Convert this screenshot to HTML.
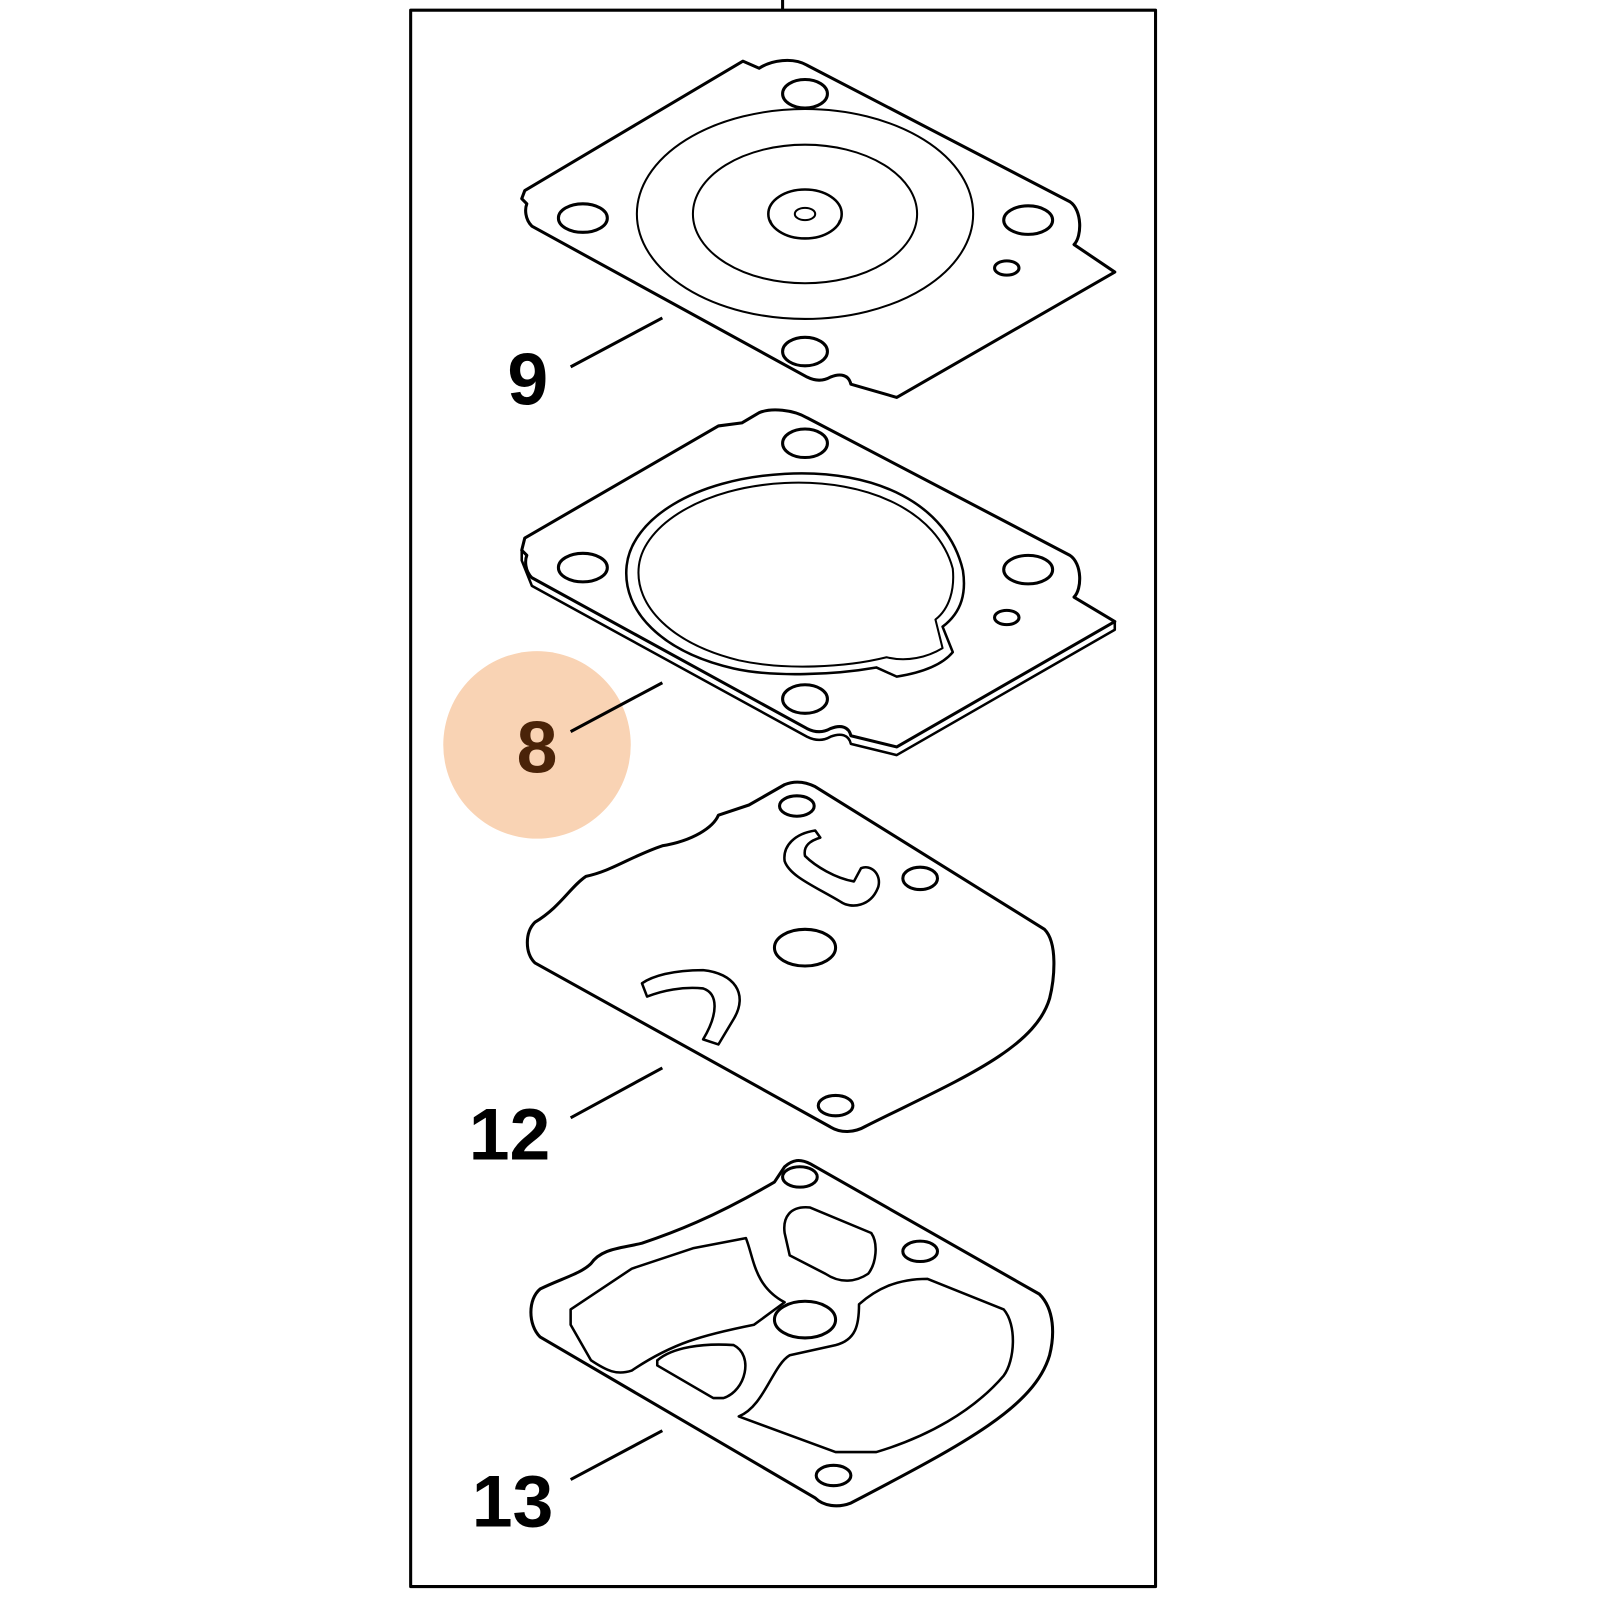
<!DOCTYPE html>
<html><head><style>
html,body{margin:0;padding:0;background:#fff;width:1600px;height:1600px;overflow:hidden}
svg{display:block}
text{font-family:"Liberation Sans",sans-serif;font-weight:bold}
</style></head><body>
<svg width="1600" height="1600" viewBox="0 0 1600 1600" fill="none" stroke="#000" stroke-width="3" stroke-linejoin="round">
<g transform="scale(1.019)">
<line x1="768" y1="0" x2="768" y2="10"/>
<rect x="403" y="10" width="731" height="1547"/>

<!-- Gasket 9 -->
<path d="M515,187 L729,60 L745,67 C757,59 778,56 792,64 L1050,198 C1062,206 1062,232 1054,240 L1094,267 L880,390 L835,377 C833,368 825,366 815,370 C808,374 800,374 792,370 L522,222 C515,215 515,205 517,200 L512,195 L515,187 Z"/>
<ellipse cx="790" cy="92" rx="22" ry="14"/>
<ellipse cx="572" cy="214" rx="24" ry="14"/>
<ellipse cx="1009" cy="216" rx="24" ry="14"/>
<ellipse cx="988" cy="263" rx="12" ry="7"/>
<ellipse cx="790" cy="345" rx="22" ry="14"/>
<ellipse cx="790" cy="210" rx="165" ry="103" stroke-width="2"/>
<ellipse cx="790" cy="210" rx="110" ry="68" stroke-width="2"/>
<ellipse cx="790" cy="210" rx="36" ry="24" stroke-width="2.5"/>
<path d="M756,216 C760,228 775,234 790,234 C805,234 820,228 824,216" stroke-width="1.5"/>
<ellipse cx="790" cy="210" rx="10" ry="6" stroke-width="2"/>
<line x1="560" y1="360" x2="650" y2="312"/>
<text x="518" y="397" font-size="72" fill="#000" stroke="none" text-anchor="middle">9</text>

<!-- Gasket 8 -->
<circle cx="527" cy="731" r="92" fill="#f9d3b4" stroke="none"/>
<path d="M515,528 L705,418 L728,415 L745,405 C757,400 778,402 792,410 L1050,545 C1062,553 1062,578 1054,586 L1094,610 L880,733 L835,722 C833,713 825,711 815,715 C808,719 800,719 792,715 L522,567 C515,560 515,550 517,545 L512,540 L515,528 Z"/>
<path d="M512,540 L512,550 L522,575 L792,723 C800,727 808,727 815,723 C825,719 833,721 835,730 L880,741 L1094,618 L1094,610" stroke-width="2.5"/>
<ellipse cx="790" cy="435" rx="22" ry="14"/>
<ellipse cx="572" cy="557" rx="24" ry="14"/>
<ellipse cx="1009" cy="559" rx="24" ry="14"/>
<ellipse cx="988" cy="606" rx="12" ry="7"/>
<ellipse cx="790" cy="686" rx="22" ry="14"/>
<path d="M860,655 C820,662 760,665 720,656 C650,640 610,600 615,555 C620,510 680,470 770,465 C860,460 930,495 945,560 C948,580 945,600 925,615 L935,640 C925,652 905,660 880,664 Z" stroke-width="2.5"/>
<path d="M870,645 C830,655 770,658 725,648 C660,632 622,595 627,555 C632,515 690,478 770,474 C852,470 920,502 935,558 C937,578 932,597 918,608 L925,636 C910,645 890,650 870,645 Z" stroke-width="2"/>
<line x1="560" y1="718" x2="650" y2="670"/>
<text x="527" y="758" font-size="72" fill="#4a2308" stroke="none" text-anchor="middle">8</text>

<!-- Gasket 12 -->
<path d="M525,905 C550,890 560,870 575,860 C600,855 620,840 650,830 C680,825 700,812 705,800 L735,790 L770,770 C780,766 790,767 800,772 L1025,912 C1038,925 1035,960 1030,980 C1015,1030 940,1060 850,1105 C838,1112 825,1112 815,1106 L525,945 C515,935 515,915 525,905 Z"/>
<ellipse cx="782" cy="791" rx="17" ry="10"/>
<ellipse cx="903" cy="862" rx="17" ry="11"/>
<ellipse cx="790" cy="930" rx="30" ry="18"/>
<ellipse cx="820" cy="1085" rx="17" ry="10"/>
<path d="M800,815 C780,818 768,830 770,845 C775,860 800,870 825,885 C835,892 855,890 862,870 C865,858 855,848 845,852 L838,865 C820,862 800,850 790,840 C788,830 795,825 805,822 Z" stroke-width="2.5"/>
<path d="M630,965 C640,958 660,952 690,952 C720,955 735,975 720,1000 L705,1025 L690,1020 C705,995 705,975 690,970 C670,968 650,972 635,978 Z" stroke-width="2.5"/>
<line x1="560" y1="1097" x2="650" y2="1048"/>
<text x="500" y="1138" font-size="72" fill="#000" stroke="none" text-anchor="middle">12</text>

<!-- Gasket 13 -->
<path d="M530,1265 C550,1255 570,1250 580,1240 C590,1225 610,1225 630,1220 C660,1210 700,1195 760,1160 L770,1145 C778,1138 785,1137 795,1142 L1020,1270 C1035,1285 1035,1310 1030,1330 C1015,1380 950,1415 835,1475 C822,1480 808,1478 800,1470 L530,1312 C518,1300 518,1275 530,1265 Z"/>
<path d="M560,1285 L620,1245 L680,1225 L732,1215 C740,1235 740,1262 770,1278 L740,1300 C690,1310 660,1318 620,1345 C605,1350 595,1345 580,1335 L560,1300 Z" stroke-width="2.5"/>
<path d="M770,1210 C768,1195 775,1183 795,1185 L855,1210 C862,1220 860,1240 852,1250 C840,1258 825,1260 810,1250 L775,1232 Z" stroke-width="2.5"/>
<ellipse cx="790" cy="1295" rx="30" ry="18"/>
<path d="M645,1335 C660,1322 690,1318 720,1320 C740,1330 732,1365 710,1372 L700,1372 L645,1340 Z" stroke-width="2.5"/>
<path d="M725,1390 C750,1380 758,1340 775,1330 L820,1320 C840,1315 843,1300 843,1280 C860,1265 880,1255 910,1255 L985,1285 C998,1300 996,1335 985,1350 C955,1385 910,1410 860,1425 L820,1425 Z" stroke-width="2.5"/>
<ellipse cx="785" cy="1155" rx="17" ry="10"/>
<ellipse cx="903" cy="1228" rx="17" ry="10"/>
<ellipse cx="818" cy="1448" rx="17" ry="10"/>
<line x1="560" y1="1452" x2="650" y2="1404"/>
<text x="503" y="1498" font-size="72" fill="#000" stroke="none" text-anchor="middle">13</text>
</g>
</svg>
</body></html>
